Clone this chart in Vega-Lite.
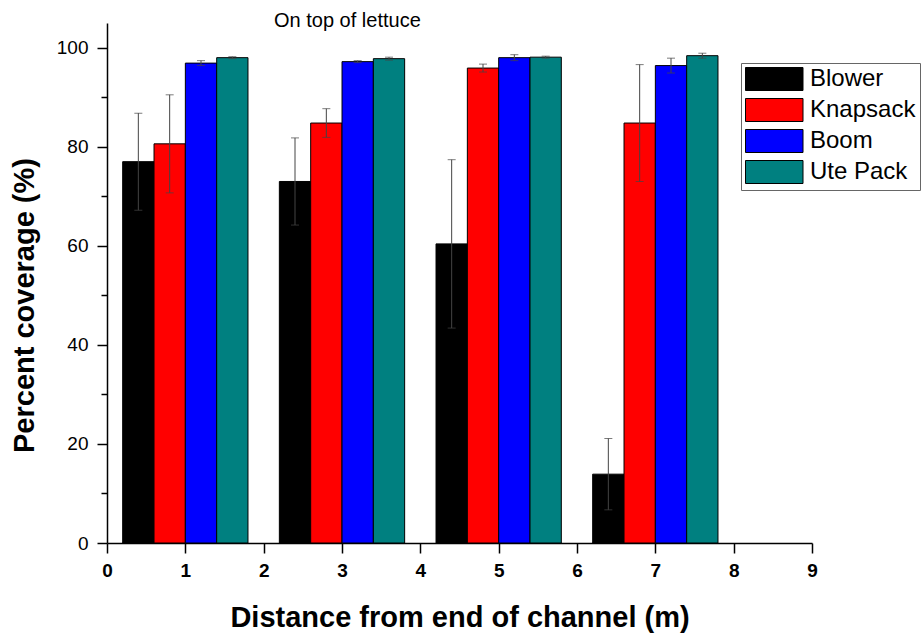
{
  "$schema": "https://vega.github.io/schema/vega-lite/v6.json",
  "width": 705,
  "height": 520,
  "autosize": "none",
  "padding": {"left": 107, "top": 23, "right": 109, "bottom": 90},
  "background": "white",
  "title": {"text": "On top of lettuce", "anchor": "start", "frame": "group", "dx": 167, "offset": -24, "baseline": "alphabetic", "fontSize": 20, "fontWeight": "normal", "font": "Liberation Sans", "color": "black"},
  "config": {"view": {"stroke": null}, "font": "Liberation Sans"},
  "data": {"values": [
    {"method": "Blower", "x": 0.4, "value": 77.0, "err": 9.8},
    {"method": "Knapsack", "x": 0.8, "value": 80.6, "err": 9.9},
    {"method": "Boom", "x": 1.2, "value": 96.9, "err": 0.5},
    {"method": "Ute Pack", "x": 1.6, "value": 98.0, "err": 0.2},
    {"method": "Blower", "x": 2.4, "value": 73.0, "err": 8.8},
    {"method": "Knapsack", "x": 2.8, "value": 84.8, "err": 2.9},
    {"method": "Boom", "x": 3.2, "value": 97.2, "err": 0.2},
    {"method": "Ute Pack", "x": 3.6, "value": 97.8, "err": 0.3},
    {"method": "Blower", "x": 4.4, "value": 60.4, "err": 17.0},
    {"method": "Knapsack", "x": 4.8, "value": 95.9, "err": 0.8},
    {"method": "Boom", "x": 5.2, "value": 98.0, "err": 0.6},
    {"method": "Ute Pack", "x": 5.6, "value": 98.1, "err": 0.2},
    {"method": "Blower", "x": 6.4, "value": 13.9, "err": 7.2},
    {"method": "Knapsack", "x": 6.8, "value": 84.8, "err": 11.8},
    {"method": "Boom", "x": 7.2, "value": 96.4, "err": 1.5},
    {"method": "Ute Pack", "x": 7.6, "value": 98.4, "err": 0.5}
  ]},
  "layer": [
    {
      "mark": {"type": "bar", "width": 31.3, "stroke": "black", "strokeWidth": 1},
      "encoding": {
        "x": {"field": "x", "type": "quantitative", "title": "Distance from end of channel (m)",
          "scale": {"domain": [0, 9], "nice": false, "zero": true, "padding": 0},
          "axis": {"values": [0,1,2,3,4,5,6,7,8,9], "format": "d", "grid": false, "domainColor": "black", "domainWidth": 1.5, "tickColor": "black", "tickWidth": 1.5, "tickSize": 10, "labelFontSize": 19, "labelFontWeight": "bold", "labelColor": "black", "labelFont": "Liberation Sans", "labelPadding": 8, "titleFontSize": 29, "titleFontWeight": "bold", "titleColor": "black", "titleFont": "Liberation Sans", "titlePadding": 23, "labelFlush": false}},
        "y": {"field": "value", "type": "quantitative", "title": "Percent coverage (%)",
          "scale": {"domain": [0, 105], "nice": false, "padding": 0},
          "axis": {"values": [0,10,20,30,40,50,60,70,80,90,100], "labelExpr": "datum.value % 20 === 0 ? datum.label : ''", "grid": false, "domainColor": "black", "domainWidth": 1.5, "tickColor": "black", "tickWidth": 1.5, "tickSize": {"condition": {"test": "datum.value % 20 === 0", "value": 10}, "value": 6}, "labelFontSize": 19, "labelColor": "black", "labelFont": "Liberation Sans", "labelPadding": 9, "titleFontSize": 29, "titleFontWeight": "bold", "titleColor": "black", "titleFont": "Liberation Sans", "titlePadding": 17, "titleY": 282, "labelFlush": false}},
        "color": {"field": "method", "type": "nominal",
          "scale": {"domain": ["Blower", "Knapsack", "Boom", "Ute Pack"], "range": ["#000000", "#FF0000", "#0000FF", "#008080"]},
          "legend": {"orient": "none", "legendX": 634, "legendY": 40, "title": null, "symbolType": "M-1,-1H4V1H-1Z", "symbolSize": 529, "symbolStrokeColor": "black", "symbolStrokeWidth": 1, "symbolOpacity": 1, "labelFontSize": 24, "labelFont": "Liberation Sans", "labelColor": "black", "labelOffset": 41, "strokeColor": "#666", "fillColor": "white", "padding": 4, "rowPadding": 3}}
      }
    },
    {
      "mark": {"type": "errorbar", "ticks": {"size": 8, "color": "#444", "strokeWidth": 1}, "color": "#444", "strokeWidth": 1},
      "encoding": {
        "x": {"field": "x", "type": "quantitative", "title": "Distance from end of channel (m)"},
        "y": {"field": "value", "type": "quantitative", "title": "Percent coverage (%)"},
        "yError": {"field": "err"}
      }
    }
  ]
}
